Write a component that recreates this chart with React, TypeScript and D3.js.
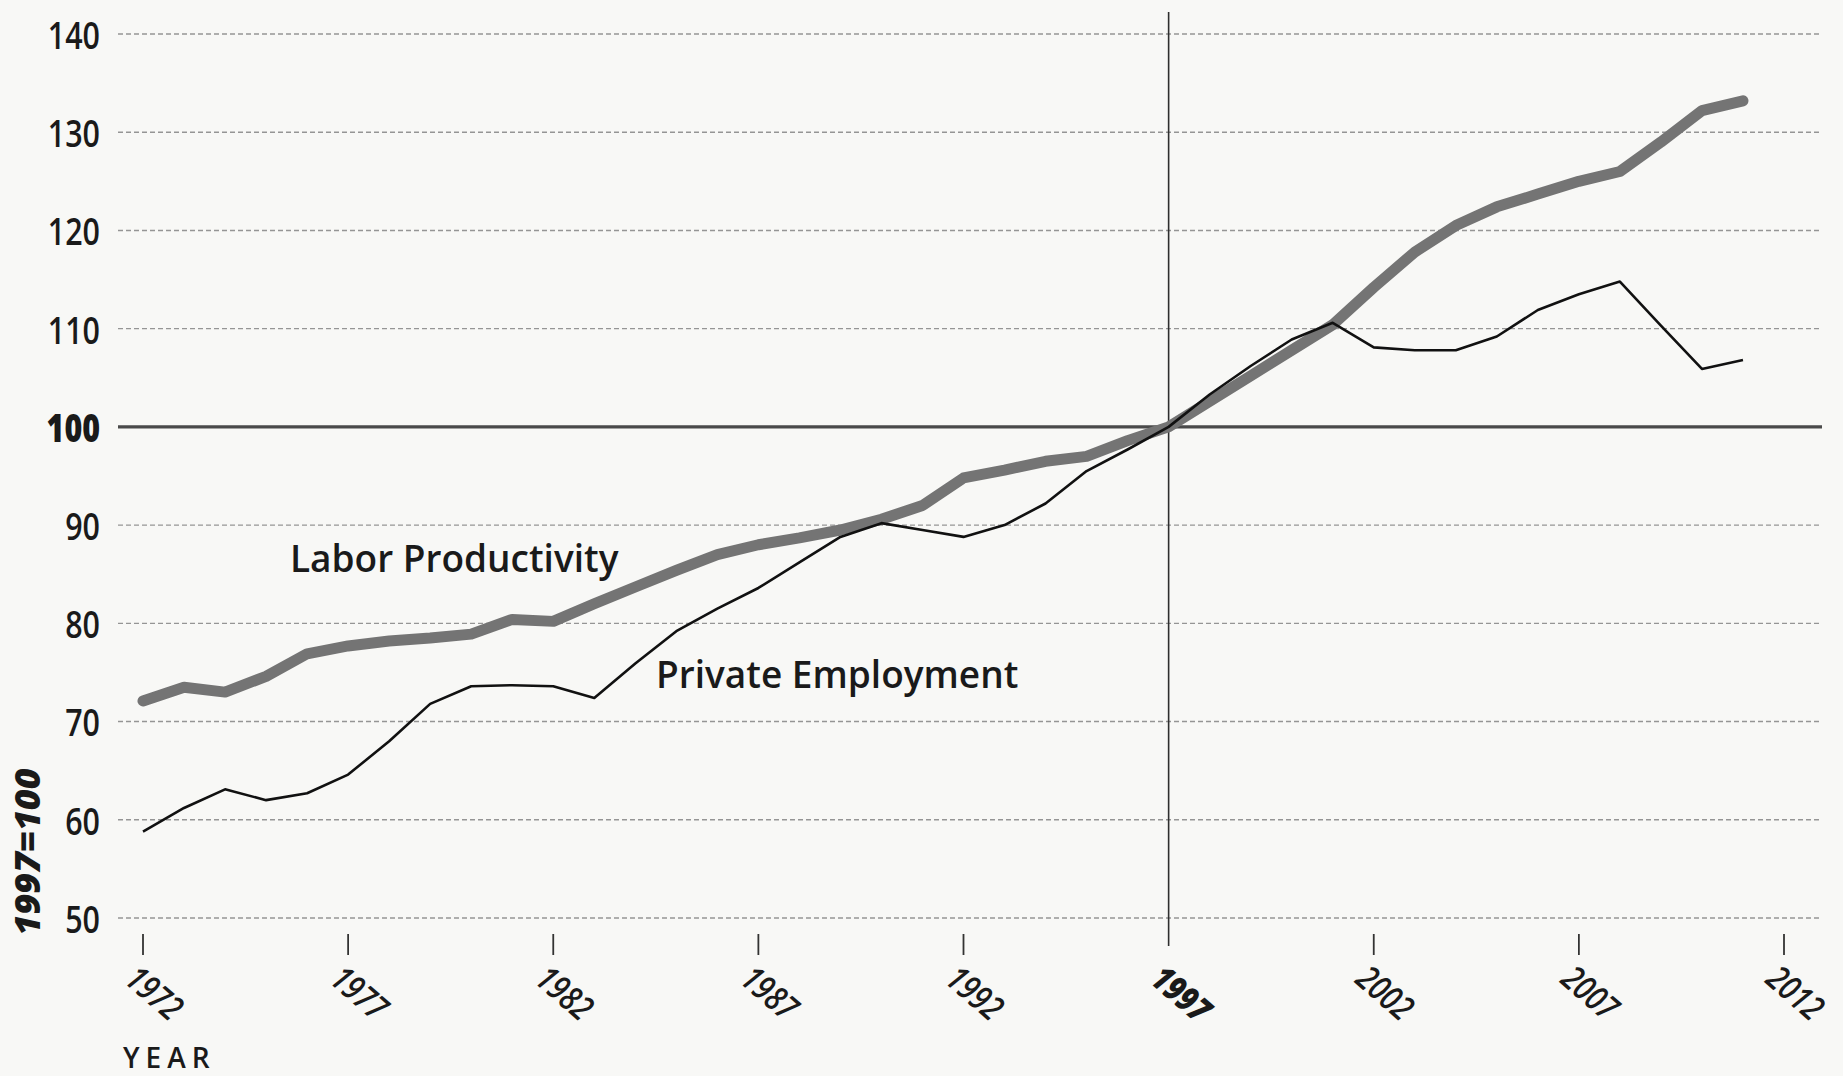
import React from 'react';
import * as d3 from 'd3';

// annual values, index 1997 = 100
const years = [
  1972, 1973, 1974, 1975, 1976, 1977, 1978, 1979, 1980, 1981,
  1982, 1983, 1984, 1985, 1986, 1987, 1988, 1989, 1990, 1991,
  1992, 1993, 1994, 1995, 1996, 1997, 1998, 1999, 2000, 2001,
  2002, 2003, 2004, 2005, 2006, 2007, 2008, 2009, 2010, 2011,
];

const laborProductivity = [
  72.1, 73.5, 73.0, 74.6, 76.9, 77.7, 78.2, 78.5, 78.9, 80.4,
  80.2, 82.0, 83.7, 85.4, 87.0, 88.0, 88.7, 89.5, 90.6, 92.0,
  94.8, 95.6, 96.5, 97.0, 98.6, 100.0, 102.6, 105.2, 107.8, 110.4,
  114.2, 117.8, 120.5, 122.4, 123.7, 125.0, 126.0, 129.0, 132.2, 133.2,
];

const privateEmployment = [
  58.8, 61.2, 63.1, 62.0, 62.7, 64.6, 68.0, 71.8, 73.6, 73.7,
  73.6, 72.4, 75.9, 79.2, 81.5, 83.6, 86.2, 88.8, 90.2, 89.5,
  88.8, 90.0, 92.2, 95.5, 97.7, 100.0, 103.3, 106.2, 108.9, 110.6,
  108.1, 107.8, 107.8, 109.2, 111.9, 113.5, 114.8, 110.3, 105.9, 106.8,
];

const xTicks = [1972, 1977, 1982, 1987, 1992, 1997, 2002, 2007, 2012];
const yTicks = [50, 60, 70, 80, 90, 100, 110, 120, 130, 140];
const baseYear = 1997;
const baseValue = 100;

const FONT = '"Open Sans", "Noto Sans", Lato, sans-serif';

export default function App() {
  const width = 1843;
  const height = 1076;

  const x = d3.scaleLinear().domain([1972, 2012]).range([143, 1784]);
  const y = d3.scaleLinear().domain([50, 140]).range([918, 34]);

  const line = d3.line<number>()
    .x((_, i) => x(years[i]))
    .y(d => y(d))
    .curve(d3.curveLinear);

  const gridLeft = 118;
  const gridRight = 1822;
  const tickTop = 934;
  const tickBottom = 955;

  return (
    <svg
      width={width}
      height={height}
      style={{ position: 'absolute', left: 0, top: 0, background: '#f8f8f6' }}
    >
      <rect width={width} height={height} fill="#f8f8f6" />

      {/* horizontal grid */}
      {yTicks.filter(t => t !== baseValue).map(t => (
        <line
          key={t}
          x1={gridLeft}
          x2={gridRight}
          y1={y(t)}
          y2={y(t)}
          stroke="#959595"
          strokeWidth={1.4}
          strokeDasharray="5 3"
        />
      ))}
      <line x1={gridLeft} x2={gridRight} y1={y(baseValue)} y2={y(baseValue)}
        stroke="#4a4a4a" strokeWidth={3.2} />

      {/* base year line */}
      <line x1={x(baseYear)} x2={x(baseYear)} y1={12} y2={946} stroke="#2e2e2e" strokeWidth={1.6} />

      {/* y labels */}
      {yTicks.map(t => (
        <text
          key={t}
          transform={`translate(100,${y(t)}) scale(0.8,1)`}
          textAnchor="end"
          dominantBaseline="central"
          fontFamily={FONT}
          fontSize={38}
          fontWeight={t === baseValue ? 800 : 600}
          fill="#1a1a1a"
        >
          {t}
        </text>
      ))}

      <text
        transform="translate(40,852) rotate(-90)"
        textAnchor="middle"
        fontFamily={FONT}
        fontSize={36}
        fontWeight={800}
        fontStyle="italic"
        fill="#1a1a1a"
      >
        1997=100
      </text>

      {/* x ticks */}
      {xTicks.filter(t => t !== baseYear).map(t => (
        <line key={t} x1={x(t)} x2={x(t)} y1={tickTop} y2={tickBottom} stroke="#333" strokeWidth={1.8} />
      ))}
      {xTicks.map(t => (
        <text
          key={t}
          transform={`translate(${x(t) - 20},${982}) rotate(41) scale(0.8,1)`}
          fontFamily={FONT}
          fontSize={35}
          fontStyle="italic"
          fontWeight={t === baseYear ? 800 : 600}
          fill="#1a1a1a"
        >
          {t}
        </text>
      ))}

      <text x={123} y={1068} fontFamily={FONT} fontSize={28} fontWeight={600}
        letterSpacing={6} fill="#1a1a1a">
        YEAR
      </text>

      {/* series */}
      <path d={line(laborProductivity) ?? ''} fill="none" stroke="#747474"
        strokeWidth={11} strokeLinejoin="round" strokeLinecap="round" />
      <path d={line(privateEmployment) ?? ''} fill="none" stroke="#111"
        strokeWidth={2.6} strokeLinejoin="round" strokeLinecap="butt" />

      <text x={290} y={572} fontFamily={FONT} fontSize={37} fontWeight={600} fill="#1a1a1a">
        Labor Productivity
      </text>
      <text x={656} y={688} fontFamily={FONT} fontSize={37} fontWeight={600} fill="#1a1a1a">
        Private Employment
      </text>
    </svg>
  );
}
